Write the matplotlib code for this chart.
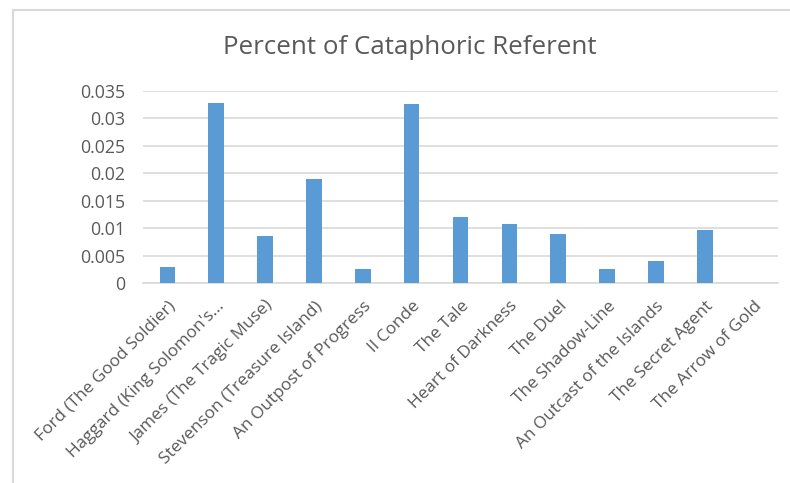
import matplotlib
matplotlib.use("Agg")
import matplotlib.pyplot as plt
import matplotlib.transforms as mtransforms
from matplotlib.patches import Rectangle

titles = ["Ford (The Good Soldier)", "Haggard (King Solomon's...",
          "James (The Tragic Muse)", "Stevenson (Treasure Island)",
          "An Outpost of Progress", "Il Conde", "The Tale",
          "Heart of Darkness", "The Duel", "The Shadow-Line",
          "An Outcast of the Islands", "The Secret Agent", "The Arrow of Gold"]
share = [0.0030, 0.0329, 0.0086, 0.0190, 0.0026, 0.0326, 0.0121,
         0.0107, 0.0090, 0.0026, 0.0041, 0.0097, 0.0]
yticks = [0, 0.005, 0.01, 0.015, 0.02, 0.025, 0.03, 0.035]
ytick_labels = ["0", "0.005", "0.01", "0.015", "0.02", "0.025", "0.03", "0.035"]

BLUE = "#5b9bd5"
GREY = "#595959"
GRID = "#d9d9d9"
FONT = "Open Sans"

fig = plt.figure(figsize=(7.9, 4.83), dpi=100)
# chart-area border (runs off the right and bottom of the image)
fig.patches.append(Rectangle((13 / 790, -0.1), 1.2, 1.1 - 10 / 483,
                             transform=fig.transFigure, fill=False,
                             edgecolor=GRID, linewidth=1.5))

ax = fig.add_axes([143 / 790, 1 - 283 / 483, (778 - 143) / 790, (283 - 91) / 483])
x = list(range(len(titles)))
ax.bar(x, share, width=0.32, color=BLUE, zorder=3)
ax.set_xlim(-0.5, len(titles) - 0.5)
ax.set_ylim(0, 0.035)
ax.set_yticks(yticks)
ax.set_yticklabels(ytick_labels, fontsize=12.8, color=GREY, family=FONT)
ax.yaxis.grid(True, color=GRID, linewidth=1.2, zorder=0)
ax.tick_params(axis="both", length=0)
ax.tick_params(axis="y", pad=13)
for s in ["top", "right", "left"]:
    ax.spines[s].set_visible(False)
ax.spines["bottom"].set_color(GRID)
ax.spines["bottom"].set_linewidth(1.2)

ax.set_xticks(x)
ax.set_xticklabels(titles, rotation=45, ha="right", va="center",
                   rotation_mode="anchor", fontsize=12.4, color=GREY, family=FONT)
ax.tick_params(axis="x", pad=15)
shift = mtransforms.ScaledTranslation(6 / 100, 0, fig.dpi_scale_trans)
for lab in ax.get_xticklabels():
    lab.set_transform(lab.get_transform() + shift)

fig.text(0.519, 1 - 48 / 483, "Percent of Cataphoric Referent", ha="center",
         va="center", fontsize=18.6, color=GREY, family=FONT)

fig.savefig("out.png", dpi=100, facecolor="white")
